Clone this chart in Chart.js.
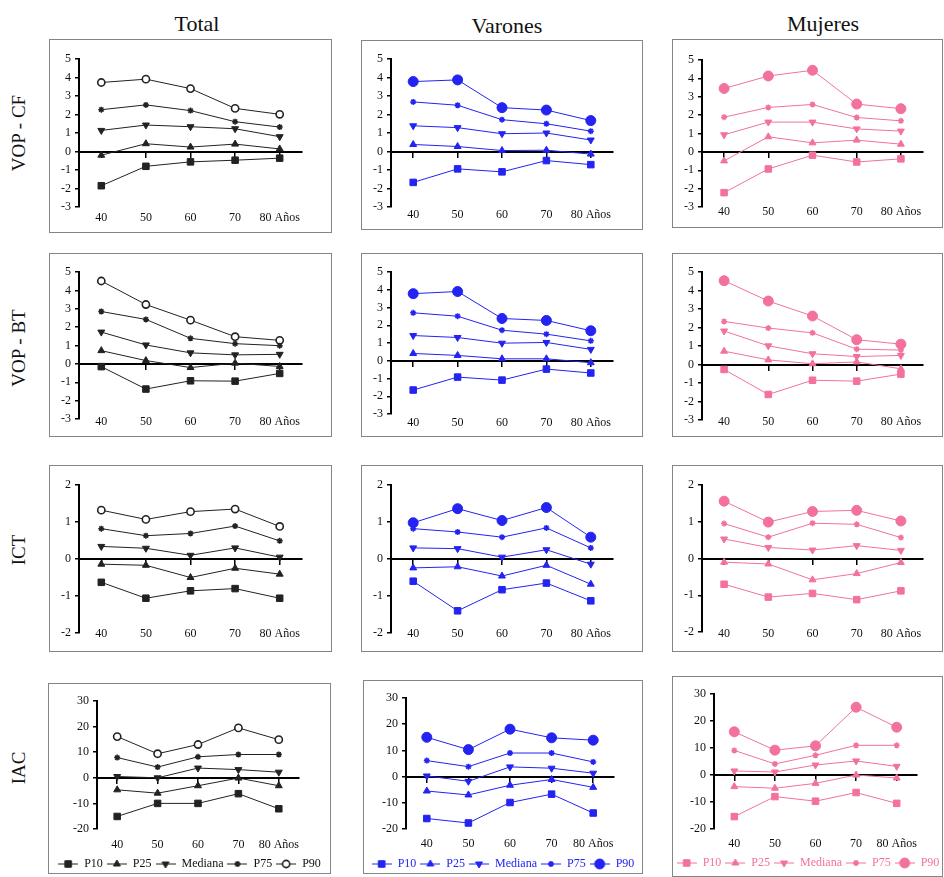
<!DOCTYPE html>
<html><head><meta charset="utf-8">
<script src="https://cdn.jsdelivr.net/npm/chart.js@4.4.0/dist/chart.umd.min.js"></script>
<style>
html,body{margin:0;padding:0;background:#fff;overflow:hidden;width:944px;height:877px;}
.box{position:absolute;border:1.3px solid #858585;box-sizing:border-box;pointer-events:none;}
canvas{position:absolute;}
.title{position:absolute;font-family:"Liberation Serif",serif;font-size:22px;color:#111;transform:translate(-50%,-50%);white-space:nowrap;}
.rowlab{position:absolute;font-family:"Liberation Serif",serif;font-size:19px;color:#111;transform:translate(-50%,-50%) rotate(-90deg);white-space:nowrap;}
</style></head><body>
<script>
// ---------- data ----------
const ages = ['40', '50', '60', '70', '80 Años'];
const percentiles = ['P10', 'P25', 'Mediana', 'P75', 'P90'];
const colTitles = ['Total', 'Varones', 'Mujeres'];
const rowTitles = ['VOP - CF', 'VOP - BT', 'ICT', 'IAC'];
const yMin = [-3, -3, -2, -20];
const yMax = [5, 5, 2, 30];
const yStep = [1, 1, 1, 10];

// rows: P10, P25, Mediana, P75, P90 ; columns: 40..80 años
const vopCfTotal = [
  [-1.85, -0.80, -0.56, -0.47, -0.36],
  [-0.20, 0.42, 0.24, 0.40, 0.14],
  [1.14, 1.43, 1.34, 1.23, 0.80],
  [2.26, 2.52, 2.21, 1.61, 1.32],
  [3.73, 3.91, 3.40, 2.33, 2.01]];
const vopCfVarones = [
  [-1.67, -0.94, -1.10, -0.49, -0.71],
  [0.38, 0.27, 0.05, 0.07, -0.14],
  [1.39, 1.29, 0.96, 1.00, 0.62],
  [2.68, 2.50, 1.72, 1.50, 1.10],
  [3.78, 3.87, 2.37, 2.24, 1.67]];
const vopCfMujeres = [
  [-2.22, -0.93, -0.18, -0.55, -0.38],
  [-0.49, 0.82, 0.49, 0.64, 0.42],
  [0.93, 1.62, 1.62, 1.25, 1.13],
  [1.89, 2.42, 2.58, 1.87, 1.69],
  [3.45, 4.13, 4.44, 2.60, 2.35]];
const vopBtTotal = [
  [-0.15, -1.37, -0.92, -0.94, -0.52],
  [0.72, 0.18, -0.20, 0.04, -0.14],
  [1.73, 1.03, 0.60, 0.49, 0.52],
  [2.85, 2.42, 1.39, 1.10, 0.99],
  [4.51, 3.23, 2.38, 1.48, 1.28]];
const vopBtVarones = [
  [-1.65, -0.92, -1.09, -0.47, -0.69],
  [0.41, 0.30, 0.11, 0.11, -0.11],
  [1.42, 1.31, 0.99, 1.03, 0.64],
  [2.70, 2.51, 1.72, 1.50, 1.12],
  [3.78, 3.90, 2.38, 2.27, 1.69]];
const vopBtMujeres = [
  [-0.27, -1.62, -0.85, -0.90, -0.52],
  [0.72, 0.25, 0.04, 0.14, -0.23],
  [1.81, 1.01, 0.58, 0.43, 0.49],
  [2.33, 1.97, 1.71, 0.83, 0.78],
  [4.53, 3.43, 2.62, 1.34, 1.10]];
const ictTotal = [
  [-0.63, -1.06, -0.86, -0.80, -1.06],
  [-0.14, -0.17, -0.50, -0.25, -0.41],
  [0.34, 0.29, 0.10, 0.30, 0.05],
  [0.82, 0.63, 0.69, 0.89, 0.49],
  [1.32, 1.07, 1.28, 1.35, 0.88]];
const ictVarones = [
  [-0.60, -1.40, -0.83, -0.65, -1.13],
  [-0.24, -0.21, -0.46, -0.17, -0.68],
  [0.30, 0.28, 0.05, 0.25, -0.14],
  [0.82, 0.73, 0.59, 0.84, 0.30],
  [0.98, 1.36, 1.04, 1.39, 0.59]];
const ictMujeres = [
  [-0.70, -1.05, -0.95, -1.12, -0.88],
  [-0.10, -0.15, -0.58, -0.41, -0.11],
  [0.53, 0.30, 0.23, 0.35, 0.22],
  [0.95, 0.58, 0.96, 0.93, 0.57],
  [1.56, 0.99, 1.28, 1.31, 1.02]];
const iacTotal = [
  [-15.1, -10.0, -10.0, -6.2, -12.1],
  [-4.7, -6.0, -3.1, -0.1, -3.1],
  [0.5, 0.0, 3.8, 3.2, 2.2],
  [7.9, 4.2, 8.2, 9.1, 9.1],
  [16.1, 9.4, 13.0, 19.5, 14.9]];
const iacVarones = [
  [-16.0, -17.7, -9.9, -6.7, -13.9],
  [-5.5, -7.0, -3.3, -1.1, -4.1],
  [0.25, -1.8, 3.7, 3.2, 1.3],
  [6.1, 3.8, 9.0, 9.0, 5.6],
  [15.0, 10.3, 18.1, 14.8, 13.9]];
const iacMujeres = [
  [-15.4, -8.0, -9.7, -6.5, -10.5],
  [-4.3, -4.9, -3.1, 0.0, -1.1],
  [1.5, 1.1, 3.7, 5.2, 3.2],
  [9.1, 4.1, 7.3, 11.0, 11.0],
  [16.0, 9.2, 10.8, 25.1, 17.7]];

const panelValues = [
  [vopCfTotal, vopCfVarones, vopCfMujeres],
  [vopBtTotal, vopBtVarones, vopBtMujeres],
  [ictTotal, ictVarones, ictMujeres],
  [iacTotal, iacVarones, iacMujeres]];

// ---------- layout (page pixels) ----------
const FONT = '"Liberation Serif", serif';
const FS = 12;
const geom = [
  [ {box:[49,39,283,194], area:[79,302,59,207], labY:218},
    {box:[361,40,282,190], area:[391,613,59,207], labY:215},
    {box:[672,39,271,189], area:[702,923,60,207], labY:212} ],
  [ {box:[49,253,283,184], area:[79,302,272,419], labY:422},
    {box:[361,253,282,184], area:[391,613,272,414], labY:423},
    {box:[672,253,271,184], area:[702,923,272,420], labY:422} ],
  [ {box:[49,465,283,187], area:[79,302,485,633], labY:634},
    {box:[361,465,282,187], area:[391,613,485,633], labY:634},
    {box:[672,465,271,187], area:[702,923,485,632], labY:634} ],
  [ {box:[48,683,283,191], area:[97,299,701,829], labY:845, legY:864},
    {box:[363,680,280,194], area:[406,614,698,829], labY:844, legY:864},
    {box:[672,676,271,201], area:[714,917,694,829], labY:844, legY:863} ]
];
const titlePos = [[197,24],[507,26],[823,24]];
const rowLabPos = [[19,133],[19,348],[19,550],[19,768]];

const themes = [
  {line:'#222222', text:'#111111', p90Fill:'#ffffff', p90r:3.6, p90bw:1.6},
  {line:'#2323f2', text:'#2323f2', p90Fill:null, p90r:5, p90bw:1},
  {line:'#f2719d', text:'#f2719d', p90Fill:null, p90r:5, p90bw:1}
];
const markers = [
  {ps:'rect', r:4.6, rot:0},
  {ps:'triangle', r:4, rot:0},
  {ps:'triangle', r:4, rot:180},
  {ps:'star', r:3, rot:0},
  {ps:'circle', r:4.5, rot:0}
];

function el(cls, text, x, y) {
  const d = document.createElement('div');
  d.className = cls; d.textContent = text;
  d.style.left = x + 'px'; d.style.top = y + 'px';
  document.body.appendChild(d);
}

function markerStyle(i, th) {
  const m = markers[i];
  const isP90 = i === 4;
  return {
    pointStyle: m.ps,
    radius: isP90 ? th.p90r : m.r,
    rotation: m.rot,
    fill: (isP90 && th.p90Fill) ? th.p90Fill : th.line,
    bw: isP90 ? th.p90bw : (m.ps === 'star' ? 1.5 : 1)
  };
}

function legendIcon(i, th) {
  const c = document.createElement('canvas');
  c.width = 20; c.height = 14;
  const ctx = c.getContext('2d');
  ctx.strokeStyle = th.line; ctx.lineWidth = 1;
  ctx.beginPath(); ctx.moveTo(0, 7); ctx.lineTo(20, 7); ctx.stroke();
  const ms = markerStyle(i, th);
  ctx.fillStyle = ms.fill; ctx.strokeStyle = th.line; ctx.lineWidth = ms.bw;
  if (Chart.helpers && Chart.helpers.drawPoint) {
    Chart.helpers.drawPoint(ctx, {pointStyle: ms.pointStyle, radius: ms.radius, rotation: ms.rotation, borderWidth: ms.bw}, 10, 7);
  } else {
    ctx.beginPath(); ctx.arc(10, 7, ms.radius, 0, Math.PI * 2); ctx.fill(); ctx.stroke();
  }
  return c;
}

const LEG_PAD = 4;

function buildPanel(row, col) {
  const g = geom[row][col];
  const th = themes[col];
  const [bx, by, bw, bh] = g.box;
  const [al, ar, at, ab] = g.area;
  const hasLegend = g.legY !== undefined;
  const cw = col === 2 ? 944 - bx : bw;
  let ch = bh;
  let padB, hX, legTop;
  if (hasLegend) {
    legTop = g.legY - LEG_PAD - FS / 2;
    const legBottom = legTop + FS + LEG_PAD + 10;
    ch = Math.max(bh, Math.ceil(legBottom - by));
    padB = by + ch - legBottom;
    hX = legTop - ab;
  } else {
    hX = 14;
    padB = by + ch - ab - hX;
    if (padB < 0) { hX += padB; padB = 0; }
  }
  const padT = at - by;
  const yW = al - bx;          // left axis box width
  const rW = bx + cw - ar;     // right spacer axis width
  const tickPad = g.labY - ab - FS * 1.2 / 2;

  const canvas = document.createElement('canvas');
  canvas.width = cw; canvas.height = ch;
  canvas.style.left = bx + 'px'; canvas.style.top = by + 'px';
  canvas.style.width = cw + 'px'; canvas.style.height = ch + 'px';
  document.body.appendChild(canvas);
  const frame = document.createElement('div');
  frame.className = 'box';
  frame.style.left = bx + 'px'; frame.style.top = by + 'px';
  frame.style.width = bw + 'px'; frame.style.height = bh + 'px';
  document.body.appendChild(frame);

  const vals = panelValues[row][col];
  const datasets = percentiles.map((name, i) => {
    const ms = markerStyle(i, th);
    return {
      label: name, data: vals[i], xAxisID: 'x', yAxisID: 'y',
      borderColor: th.line, borderWidth: 1, backgroundColor: ms.fill,
      pointStyle: ms.pointStyle, pointRadius: ms.radius, pointRotation: ms.rotation,
      pointBorderColor: th.line, pointBackgroundColor: ms.fill, pointBorderWidth: ms.bw,
      tension: 0, fill: false, clip: false
    };
  });

  new Chart(canvas, {
    type: 'line',
    data: { labels: ages, datasets },
    options: {
      responsive: false, animation: false, devicePixelRatio: 1,
      layout: { padding: { left: 0, right: 0, top: padT, bottom: padB } },
      plugins: {
        title: { display: false }, tooltip: { enabled: false },
        legend: {
          display: hasLegend, position: 'bottom',
          labels: {
            usePointStyle: true, pointStyleWidth: 20, padding: LEG_PAD,
            color: th.text, font: { family: FONT, size: FS },
            generateLabels: (chart) => chart.data.datasets.map((ds, i) => ({
              text: ds.label, pointStyle: legendIcon(i, th), fillStyle: th.line,
              strokeStyle: th.line, lineWidth: 0, hidden: false, datasetIndex: i, fontColor: th.text
            }))
          }
        }
      },
      scales: {
        x: {
          type: 'category', position: 'bottom', offset: true,
          grid: { display: false, drawTicks: false }, border: { display: false },
          ticks: { color: '#111', font: { family: FONT, size: FS }, padding: tickPad, maxRotation: 0, autoSkip: false },
          afterFit: (s) => { s.height = hX; s._computeLabelArea = () => undefined; }
        },
        x2: {
          type: 'category', axis: 'x', position: { y: 0 }, offset: true,
          grid: { display: true, drawOnChartArea: false, drawTicks: true, tickLength: 5, color: '#000', lineWidth: 1.5, offset: false },
          border: { display: true, color: '#000', width: 2 },
          ticks: { display: false }
        },
        y: {
          type: 'linear', position: 'left', min: yMin[row], max: yMax[row],
          ticks: { stepSize: yStep[row], color: '#111', font: { family: FONT, size: FS }, padding: 4 },
          grid: { display: true, drawOnChartArea: false, drawTicks: true, tickLength: 4, color: '#000', lineWidth: 1.5 },
          border: { display: true, color: '#000', width: 2 },
          afterFit: (s) => { s.width = yW; }
        },
        yR: {
          type: 'linear', axis: 'y', position: 'right', display: true,
          ticks: { display: false }, grid: { display: false, drawTicks: false }, border: { display: false },
          afterFit: (s) => { s.width = rW; }
        }
      }
    }
  });
}

function buildAll() {
  Chart.defaults.font.family = FONT;
  colTitles.forEach((t, i) => el('title', t, titlePos[i][0], titlePos[i][1]));
  rowTitles.forEach((t, i) => el('rowlab', t, rowLabPos[i][0], rowLabPos[i][1]));
  for (let r = 0; r < 4; r++) for (let c = 0; c < 3; c++) buildPanel(r, c);
}
if (document.fonts && document.fonts.load) {
  document.fonts.load('12px "Liberation Serif"').then(buildAll, buildAll);
} else {
  buildAll();
}
</script>
</body></html>
